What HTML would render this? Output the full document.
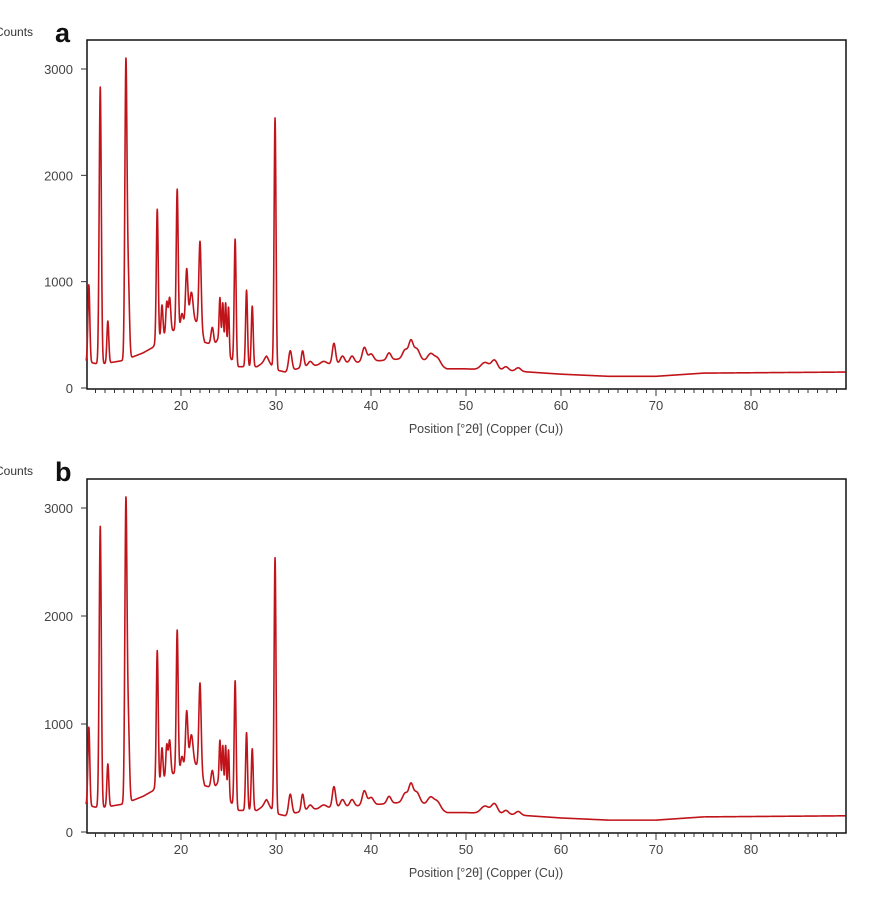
<!DOCTYPE html>
<html><head><meta charset="utf-8"><style>
body{margin:0;background:#fff;width:881px;height:917px;overflow:hidden}
svg{display:block}
text{font-family:"Liberation Sans",sans-serif}
</style></head><body>
<svg id="chart" width="881" height="917"></svg>
<script>
// Background counts
const bgX = [10,11,12,14,16,17,18,20,21,22,22.5,23.5,24,25,26,28,29,30,31,33,35,40,44,46,48,50,55,60,65,70,75,90];
const bgY = [250,230,230,260,330,380,480,580,650,600,430,400,480,300,200,200,260,170,150,200,220,250,280,250,180,180,160,130,110,110,140,150];
// Peak positions (°2θ), top counts, widths (sigma)
const peakX = [10.3,11.5,12.3,14.2,14.45,17.5,18.0,18.5,18.8,19.6,20.1,20.6,21.1,22.0,23.3,24.1,24.4,24.7,25.0,25.7,26.9,27.5,29.0,29.9,31.5,32.8,33.6,35.0,36.1,37.0,38.0,39.3,40.0,41.9,43.6,44.2,44.8,46.3,47.0,52.0,53.0,54.2,55.5];
const peakTop = [970,2830,630,3020,1000,1680,780,800,850,1870,700,1120,900,1380,570,850,800,800,760,1400,920,770,300,2540,350,350,250,250,420,300,300,380,320,330,360,430,370,320,280,240,260,200,190];
const peakW = [0.1,0.11,0.1,0.11,0.12,0.1,0.1,0.1,0.12,0.1,0.12,0.12,0.17,0.12,0.14,0.08,0.08,0.08,0.08,0.1,0.1,0.1,0.22,0.1,0.17,0.14,0.22,0.32,0.17,0.22,0.22,0.22,0.27,0.22,0.27,0.22,0.32,0.32,0.32,0.42,0.32,0.27,0.27];
const yTicks = [0,1000,2000,3000];
const xTicks = [20,30,40,50,60,70,80];

const NS='http://www.w3.org/2000/svg';
const svg=document.getElementById('chart');
function mk(tag,attrs,parent){const e=document.createElementNS(NS,tag);for(const k in attrs)e.setAttribute(k,attrs[k]);(parent||svg).appendChild(e);return e;}
function bg(x){for(let i=0;i<bgX.length-1;i++){if(x<=bgX[i+1]){const t=(x-bgX[i])/(bgX[i+1]-bgX[i]);return bgY[i]+t*(bgY[i+1]-bgY[i]);}}return bgY[bgY.length-1];}
function counts(x){let v=bg(x);for(let i=0;i<peakX.length;i++){const h=peakTop[i]-bg(peakX[i]);const d=(x-peakX[i])/peakW[i];v+=h*Math.exp(-0.5*d*d);}return v;}

function panel(label,top,y0,y3000){
  const L=87,R=846,bottom=y0+1;
  const g=mk('g',{});
  
  
  const sx=x=>86+(x-10)*9.5;
  const sy=v=>y0-(v/3000)*(y0-y3000);
  const fr=mk('rect',{x:L,y:top,width:R-L,height:bottom-top,fill:'none',stroke:'#111','stroke-width':1.5},g);
  
  const c=mk('text',{x:-5,y:top-4,'font-size':12,fill:'#333'},g);c.textContent='Counts';
  
  const pl=mk('text',{x:55,y:top+2,'font-size':27,'font-weight':'bold',fill:'#111'},g);pl.textContent=label;
  
  yTicks.forEach(v=>{const y=sy(v);mk('line',{x1:L-6,x2:L,y1:y,y2:y,stroke:'#333','stroke-width':1},g);
    const t=mk('text',{x:L-14,y:y+5,'font-size':13,fill:'#444','text-anchor':'end'},g);t.textContent=v;
    });
  for(let d=11;d<=89;d++){const x=sx(d);mk('line',{x1:x,x2:x,y1:bottom,y2:bottom+(d%10==0?7:4),stroke:'#333','stroke-width':1},g);}
  xTicks.forEach(v=>{const t=mk('text',{x:sx(v),y:bottom+21,'font-size':13,fill:'#444','text-anchor':'middle'},g);t.textContent=v;
    });
  const xt=mk('text',{x:486,y:bottom+44,'font-size':12.5,fill:'#444','text-anchor':'middle'},g);xt.textContent='Position [°2θ] (Copper (Cu))';
  
  let d='';for(let x=10;x<=89.95;x+=0.02){d+=(d?'L':'M')+sx(x).toFixed(2)+','+sy(counts(x)).toFixed(2);}
  const p=mk('path',{d:d,fill:'none',stroke:'#c0141a','stroke-width':1.6,'stroke-linejoin':'round'},g);
  
  
}
panel('a',40,388,69);
panel('b',479,832,508);
</script>
</body></html>
